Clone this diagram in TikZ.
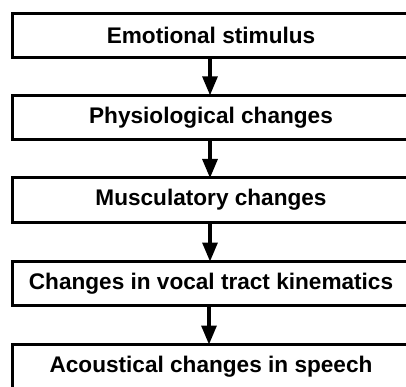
\documentclass[tikz,border=0pt]{standalone}
\usepackage{fontspec}
\setmainfont{Liberation Sans}
\usetikzlibrary{arrows.meta}
\begin{document}
\begin{tikzpicture}[x=1pt,y=1pt,
  stagebox/.style={draw=black, line width=3pt, fill=white, inner sep=0pt, outer sep=0pt,
    minimum width=397pt, minimum height=44pt,
    font=\fontsize{22.6pt}{26pt}\selectfont\bfseries},
  flow/.style={line width=3.2pt, -{Triangle[length=19pt,width=15pt]}}]
\useasboundingbox (0,0) rectangle (406,-387);
\clip (0,0) rectangle (406,-387);
\node[stagebox] (s1) at (211,-35.8) {Emotional stimulus};
\node[stagebox] (s2) at (211,-117.3) {Physiological changes};
\node[stagebox] (s3) at (211,-200) {Musculatory changes};
\node[stagebox] (s4) at (211,-283.5) {Changes in vocal tract kinematics};
\node[stagebox] (s5) at (211,-366.5) {Acoustical changes in speech};
\draw[flow] (s1.south) ++(-1,0) coordinate (a1) -- (a1 |- s2.north);
\draw[flow] (s2.south) ++(-1,0) coordinate (a2) -- (a2 |- s3.north);
\draw[flow] (s3.south) ++(-1,0) coordinate (a3) -- (a3 |- s4.north);
\draw[flow] (s4.south) ++(-2,0) coordinate (a4) -- (a4 |- s5.north);
\end{tikzpicture}
\end{document}
